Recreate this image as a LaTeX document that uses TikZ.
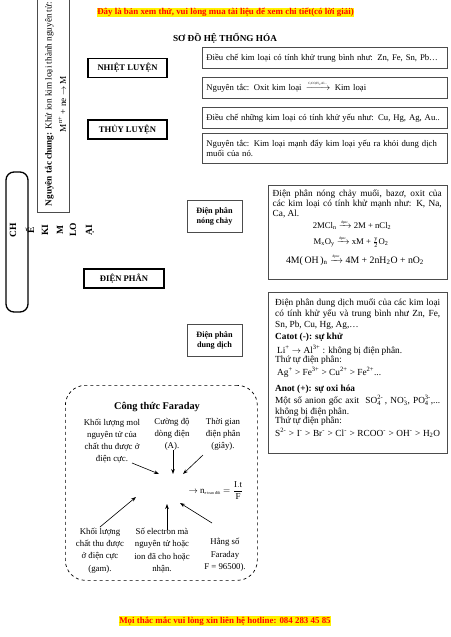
\documentclass[tikz,border=0pt]{standalone}
\usepackage{amsmath}
\usepackage{fontspec}
\setmainfont{Liberation Serif}
\usetikzlibrary{arrows.meta}
\newcommand\dpnc{\ensuremath{\smash{\xrightarrow{\text{\fontsize{3.5}{4}\selectfont đpnc}}}}}
\newcommand\sbs[1]{\textsubscript{#1}}
\newcommand\sps[1]{\textsuperscript{#1}}
\begin{document}
\begin{tikzpicture}[x=1pt,y=-1pt,
  body/.style={font=\fontsize{8.7}{10.5}\selectfont},
  big/.style={font=\fontsize{9.3}{11}\selectfont},
  gbox/.style={draw=black!70, line width=0.8pt, inner sep=0pt},
  heavy/.style={draw=black, line width=1.7pt, font=\bfseries\fontsize{8.6}{10}\selectfont, minimum width=79pt, minimum height=19pt, inner sep=0pt},
  smallbox/.style={gbox, body, minimum width=245pt, minimum height=21pt, text width=237pt, inner xsep=4pt, align=left, anchor=north west},
  midbox/.style={gbox, font=\bfseries\fontsize{8.2}{9.5}\selectfont, minimum width=55pt, minimum height=32pt, align=center},
  vert/.style={rotate=90, font=\bfseries\fontsize{9.5}{10}\selectfont, inner sep=0pt},
  flbl/.style={font=\fontsize{8.8}{12.3}\selectfont, align=center, inner sep=0pt},
  line/.style={big, anchor=west, inner sep=0pt},
  arr/.style={-{Stealth[length=5pt,width=3.6pt]}, line width=0.6pt},
  banner/.style={fill=yellow, text=red, font=\bfseries\fontsize{8.9}{10}\selectfont, inner sep=0.6pt}
]
\useasboundingbox (0,0) rectangle (450,637);
\fill[white] (0,0) rectangle (450,637);

% banners and title
\node[banner] (top) at (225.5,12.5) {Đây là bản xem thử, vui lòng mua tài liệu để xem chi tiết(có lời giải)};
\node[font=\bfseries\fontsize{9.2}{10}\selectfont] (title) at (225,38) {SƠ ĐỒ HỆ THỐNG HÓA};
\node[banner] (bottom) at (225,621) {Mọi thắc mắc vui lòng xin liên hệ hotline: 084 283 45 85};

% left vertical box
\node[gbox, minimum width=32pt, minimum height=217pt, anchor=north west] (gen) at (37,-5) {};
\node[rotate=90, font=\fontsize{9.2}{14.5}\selectfont, align=center, inner sep=0pt] (gent) at (55.5,104) {\textbf{Nguyên tắc chung:} Khử ion kim loại thành nguyên tử:\\ M\textsuperscript{n+} + ne $\rightarrow$ M};

% rounded box with fragments
\node[draw=black, line width=1.3pt, rounded corners=8pt, minimum width=22pt, minimum height=140pt, inner sep=0pt] (ch) at (17,242) {};
\node[vert] (t1) at (13,230) {CH};
\node[vert] (t2) at (30,230) {Ế};
\node[vert] (t3) at (45,230) {KI};
\node[vert] (t4) at (60,230) {M};
\node[vert] (t5) at (73,230) {LO};
\node[vert] (t6) at (90,230) {ẠI};

% method boxes
\node[heavy] (nl) at (127.5,68) {NHIỆT LUYỆN};
\node[heavy] (tl) at (127.5,129.5) {THỦY LUYỆN};
\node[heavy, minimum width=80pt] (dp) at (124,278.5) {ĐIỆN PHÂN};

% right small boxes
\node[smallbox] (b1) at (202,47) {Điều chế kim loại có tính khử trung bình như: Zn, Fe, Sn, Pb…};
\node[smallbox] (b2) at (202,77) {Nguyên tắc: Oxit kim loại \,$\smash{\xrightarrow{\text{\fontsize{3.2}{3.5}\selectfont C,CO,H\textsubscript{2},Al...}}}$\, Kim loại};
\node[smallbox] (b3) at (202,107) {Điều chế những kim loại có tính khử yếu như: Cu, Hg, Ag, Au..};
\node[smallbox, minimum height=30pt, font=\fontsize{8.7}{10}\selectfont] (b4) at (202,133) {Nguyên tắc: Kim loại mạnh đẩy kim loại yếu ra khỏi dung dịch muối của nó.};

% electrolysis sub boxes
\node[midbox] (nc) at (214.5,216.5) {Điện phân\\nóng chảy};
\node[midbox] (dd) at (214.5,340.5) {Điện phân\\dung dịch};

% big box 1
\node[gbox, minimum width=179pt, minimum height=94pt, anchor=north west] (bb1) at (268,185) {};
\node[line] (a1) at (272.5,194) {\makebox[169pt][s]{Điện phân nóng chảy muối, bazơ, oxit của}};
\node[line] (a2) at (272.5,204) {\makebox[169pt][s]{các kim loại có tính khử mạnh như: K, Na,}};
\node[line] (a3) at (272.5,213.5) {Ca, Al.};
\node[body, inner sep=0pt] (e1) at (352,226) {2MCl\sbs{n} \dpnc{} 2M + nCl\sbs{2}};
\node[body, inner sep=0pt] (e2) at (351,242.5) {M\sbs{x}O\sbs{y} \dpnc{} xM + $\frac{\mathrm{y}}{\mathrm{2}}$O\sbs{2}};
\node[font=\fontsize{9.8}{11}\selectfont, inner sep=0pt] (e3) at (355,261) {4M(\,OH\,)\sbs{n} \dpnc{} 4M + 2nH\sbs{2}O + nO\sbs{2}};

% big box 2
\node[gbox, minimum width=179pt, minimum height=161pt, anchor=north west] (bb2) at (268,292) {};
\node[line] (c1) at (275,303) {\makebox[165pt][s]{Điện phân dung dịch muối của các kim loại}};
\node[line] (c2) at (275,314.5) {\makebox[165pt][s]{có tính khử yếu và trung bình như Zn, Fe,}};
\node[line] (c3) at (275,325.5) {Sn, Pb, Cu, Hg, Ag,…};
\node[line] (c4) at (275,337.5) {\textbf{Catot (-): sự khử}};
\node[line] (c5) at (277,350.5) {Li\sps{+} $\rightarrow$ Al\sps{3+} : không bị điện phân.};
\node[line] (c6) at (275,360.5) {Thứ tự điện phân:};
\node[line] (c7) at (277,372) {Ag\sps{+} > Fe\sps{3+} > Cu\sps{2+} > Fe\sps{2+}...};
\node[line] (c8) at (275,389) {\textbf{Anot (+): sự oxi hóa}};
\node[line] (c9) at (275,400.5) {\makebox[165pt][s]{Một số anion gốc axit \ $\mathrm{SO_4^{2\text{-}}}$\,, $\mathrm{NO_3^{\text{-}}}$, $\mathrm{PO_4^{3\text{-}}}$,...}};
\node[line] (c10) at (275,412) {không bị điện phân.};
\node[line] (c11) at (275,421.5) {Thứ tự điện phân:};
\node[line] (c12) at (275,433) {\makebox[165pt][s]{S\sps{2-} > I\sps{-} > Br\sps{-} > Cl\sps{-} > RCOO\sps{-} > OH\sps{-} > H\sbs{2}O}};

% Faraday box
\node[draw=black, dashed, line width=0.7pt, rounded corners=20pt, minimum width=192pt, minimum height=195pt, anchor=north west, inner sep=0pt] (far) at (65,385) {};
\node[font=\bfseries\fontsize{10.3}{12}\selectfont] (ft) at (157,407) {Công thức Faraday};
\node[flbl] (la) at (112,441) {Khối lượng mol\\nguyên tử của\\chất thu được ở\\điện cực.};
\node[flbl] (lb) at (172,434.5) {Cường độ\\dòng điện\\(A).};
\node[flbl] (lc) at (223,434.5) {Thời gian\\điện phân\\(giây).};
\node[flbl] (ld) at (100,550.5) {Khối lượng\\chất thu được\\ở điện cực\\(gam).};
\node[flbl] (le) at (162,550.5) {Số electron mà\\nguyên tử hoặc\\ion đã cho hoặc\\nhận.};
\node[flbl] (lf) at (225,555) {Hằng số\\Faraday\\F = 96500).};
\node[font=\fontsize{9}{10}\selectfont, inner sep=0pt] (form) at (216,491) {$\rightarrow$ n\textsubscript{\fontsize{4.2}{5}\selectfont e trao đổi} $=\dfrac{\mathrm{I.t}}{\mathrm{F}}$};

\coordinate (sa) at (132,463); \coordinate (ta) at (159,474);
\coordinate (sb) at (173,450); \coordinate (tb) at (173,474);
\coordinate (sc) at (203,455); \coordinate (tc) at (183,474);
\coordinate (sd) at (100,527); \coordinate (td) at (136,497);
\coordinate (se) at (167,530); \coordinate (te) at (167,504);
\coordinate (sf) at (212,523); \coordinate (tf) at (180,503);
\draw[arr] (sa) -- (ta);
\draw[arr] (sb) -- (tb);
\draw[arr] (sc) -- (tc);
\draw[arr] (sd) -- (td);
\draw[arr] (se) -- (te);
\draw[arr] (sf) -- (tf);
\end{tikzpicture}
\end{document}
